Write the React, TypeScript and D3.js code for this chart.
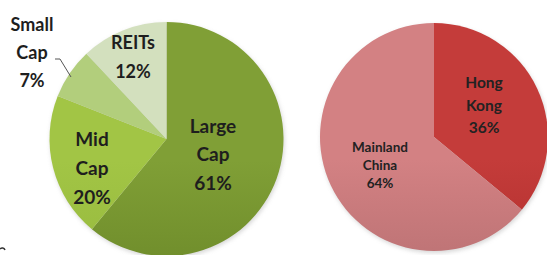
import React from "react";
import * as d3 from "d3";

const capCategories = ["Large Cap", "Mid Cap", "Small Cap", "REITs"];
const capValues = [61, 20, 7, 12];
const capLabels = [["Large", "Cap", "61%"], ["Mid", "Cap", "20%"], ["Small", "Cap", "7%"], ["REITs", "12%"]];

const regionCategories = ["Hong Kong", "Mainland China"];
const regionValues = [36, 64];
const regionLabels = [["Hong", "Kong", "36%"], ["Mainland", "China", "64%"]];

const capColors = [["#809F36", "#5B771E"], ["#A2C545", "#8AAC36"], ["#B2CE7C", "#A2BE6C"], ["#D3E0BE", "#C4D3AC"]];
const regionColors = [["#C43C3A", "#9C2020"], ["#D38183", "#A26264"]];

export default function App() {
  const pie = d3.pie<number>().sort(null).value((d) => d);
  const L = { cx: 166.5, cy: 139, r: 117 };
  const R = { cx: 434, cy: 137, r: 114 };
  const capArcs = pie(capValues);
  const regArcs = pie(regionValues);
  const arcL = d3.arc<d3.PieArcDatum<number>>().innerRadius(0).outerRadius(L.r);
  const arcR = d3.arc<d3.PieArcDatum<number>>().innerRadius(0).outerRadius(R.r);

  const capLabelPos = [
    { x: 213, y: 126, fs: 19, lh: 28.5 },
    { x: 92, y: 139, fs: 19, lh: 29 },
    { x: 32, y: 25, fs: 18, lh: 28 },
    { x: 133, y: 43, fs: 18, lh: 29 },
  ];
  const regLabelPos = [
    { x: 484, y: 83, fs: 15.5, lh: 22.5 },
    { x: 380, y: 147, fs: 13.5, lh: 18 },
  ];
  const font = "Lato, 'Open Sans', sans-serif";

  return (
    <svg width={547} height={255} style={{ position: "absolute", left: 0, top: 0 }}>
      <defs>
        {capColors.map((c, i) => (
          <linearGradient key={"gl" + i} id={"gl" + i} gradientUnits="userSpaceOnUse" x1={0} y1={L.cy - L.r} x2={0} y2={L.cy + L.r}>
            <stop offset="0" stopColor={c[0]} />
            <stop offset="1" stopColor={c[1]} />
          </linearGradient>
        ))}
        {regionColors.map((c, i) => (
          <linearGradient key={"gr" + i} id={"gr" + i} gradientUnits="userSpaceOnUse" x1={0} y1={R.cy - R.r} x2={0} y2={R.cy + R.r}>
            <stop offset="0" stopColor={c[0]} />
            <stop offset="1" stopColor={c[1]} />
          </linearGradient>
        ))}
        <filter id="sh" x="-10%" y="-10%" width="120%" height="120%">
          <feGaussianBlur stdDeviation="2" />
        </filter>
      </defs>
      <rect width={547} height={255} fill="#ffffff" />
      <circle cx={L.cx + 1} cy={L.cy + 2} r={L.r} fill="#bbbbbb" filter="url(#sh)" opacity={0.6} />
      <circle cx={R.cx + 1} cy={R.cy + 2} r={R.r} fill="#bbbbbb" filter="url(#sh)" opacity={0.6} />
      <g transform={`translate(${L.cx},${L.cy})`}>
        {capArcs.map((a, i) => (
          <path key={capCategories[i]} d={arcL(a) || ""} fill={`url(#gl${i})`} />
        ))}
      </g>
      <g transform={`translate(${R.cx},${R.cy})`}>
        {regArcs.map((a, i) => (
          <path key={regionCategories[i]} d={arcR(a) || ""} fill={`url(#gr${i})`} />
        ))}
      </g>
      {capLabels.map((lines, i) => (
        <text key={"tl" + i} x={capLabelPos[i].x} textAnchor="middle" fontFamily={font} fontWeight={700} fontSize={capLabelPos[i].fs} fill="#1e1e1e">
          {lines.map((t, j) => (
            <tspan key={j} x={capLabelPos[i].x} y={capLabelPos[i].y + j * capLabelPos[i].lh} dy="0.35em">{t}</tspan>
          ))}
        </text>
      ))}
      <polyline points="55,59 60,59 71,77" fill="none" stroke="#555" strokeWidth={1} />
      {regionLabels.map((lines, i) => (
        <text key={"tr" + i} x={regLabelPos[i].x} textAnchor="middle" fontFamily={font} fontWeight={700} fontSize={regLabelPos[i].fs} fill="#222">
          {lines.map((t, j) => (
            <tspan key={j} x={regLabelPos[i].x} y={regLabelPos[i].y + j * regLabelPos[i].lh} dy="0.35em">{t}</tspan>
          ))}
        </text>
      ))}
      <path d="M 5 250 A 3 3 0 0 0 0 249" fill="none" stroke="#333" strokeWidth={1.5} />
    </svg>
  );
}
